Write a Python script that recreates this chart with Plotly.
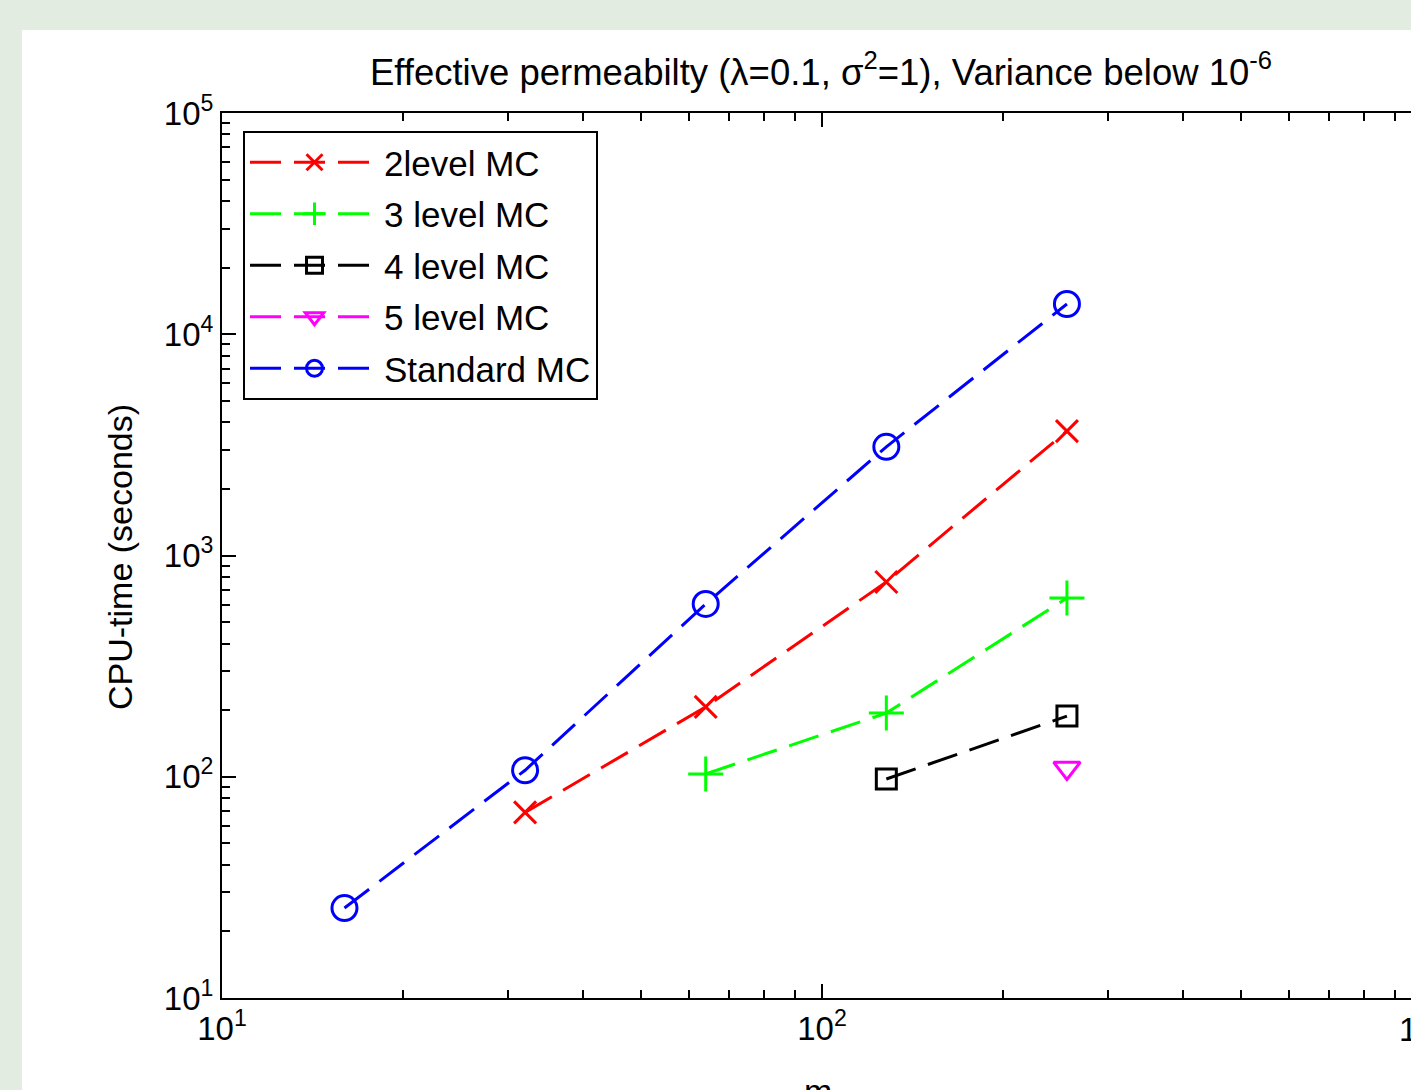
import plotly.graph_objects as go

# ---- data ----
m_std = [16, 32, 64, 128, 256]
cpu_std = [25.5, 107, 604, 3100, 13700]
m_2lvl = [32, 64, 128, 256]
cpu_2lvl = [69, 207, 759, 3650]
m_3lvl = [64, 128, 256]
cpu_3lvl = [103, 194, 642]
m_4lvl = [128, 256]
cpu_4lvl = [97.7, 188]
m_5lvl = [256]
cpu_5lvl = [109.5]

series_names = ["2level MC", "3 level MC", "4 level MC", "5 level MC", "Standard MC"]

x_tickvals = [10, 100, 1000]
x_ticktext = ["10<sup>1</sup>", "10<sup>2</sup>", "10<sup>3</sup>"]
y_tickvals = [10, 100, 1000, 10000, 100000]
y_ticktext = ["10<sup>1</sup>", "10<sup>2</sup>", "10<sup>3</sup>", "10<sup>4</sup>", "10<sup>5</sup>"]

W, H = 1411, 1090
L, T, B = 222, 113, 998  # plot area pixel positions
PX_PER_DEC = 600.0
x_right_log = 1 + (W - L) / PX_PER_DEC

FONT = "Liberation Sans, Arial, sans-serif"
DASH = "31px,13px"
BG = "#e2ece1"

fig = go.Figure()

def add(xs, ys, name, color, symbol, size, grp):
    fig.add_trace(go.Scatter(
        x=xs, y=ys, name=name, mode="lines+markers",
        line=dict(color=color, width=3, dash=DASH),
        marker=dict(symbol=symbol, size=size, color=color,
                    line=dict(color=color, width=3)),
        legendgroup=grp,
    ))

add(m_2lvl, cpu_2lvl, series_names[0], "#ff0000", "x-thin", 22, "a")
add(m_3lvl, cpu_3lvl, series_names[1], "#00ff00", "cross-thin", 25, "b")
add(m_4lvl, cpu_4lvl, series_names[2], "#000000", "square-open", 20, "c")
add(m_5lvl, cpu_5lvl, series_names[3], "#ff00ff", "triangle-down-open", 23, "d")
add(m_std, cpu_std, series_names[4], "#0000ff", "circle-open", 25, "e")

def px_to_paper_x(px):
    return (px - L) / (W - L)

def py_to_paper_y(py):
    return (B - py) / (B - T)

axis_common = dict(
    type="log", showline=True, linecolor="black", linewidth=2,
    ticks="inside", ticklen=14, tickwidth=2, tickcolor="black",
    showgrid=False, zeroline=False, tickmode="array",
    tickfont=dict(family=FONT, size=33, color="black"),
    minor=dict(ticks="inside", ticklen=8, tickwidth=2, tickcolor="black",
               dtick="D1", showgrid=False),
    automargin=False,
)

fig.update_layout(
    width=W, height=H,
    margin=dict(l=L, r=0, t=T, b=H - B, pad=0),
    paper_bgcolor=BG,
    plot_bgcolor="white",
    template="none",
    font=dict(family=FONT, color="black"),
    xaxis=dict(range=[1, x_right_log], mirror="ticks",
               tickvals=x_tickvals, ticktext=x_ticktext, **axis_common),
    yaxis=dict(range=[1, 5], mirror=False,
               tickvals=y_tickvals, ticktext=y_ticktext, **axis_common),
    showlegend=True,
    legend=dict(
        x=px_to_paper_x(243), y=py_to_paper_y(131), xanchor="left", yanchor="top",
        bgcolor="white", bordercolor="black", borderwidth=2,
        font=dict(family=FONT, size=35, color="black"),
        itemwidth=129, tracegroupgap=3, traceorder="grouped",
    ),
    title=dict(
        text="Effective permeabilty (λ=0.1, σ<sup>2</sup>=1), Variance below 10<sup>-6</sup>",
        font=dict(family=FONT, size=36.5, color="black"),
        xref="paper", x=px_to_paper_x(821), xanchor="center",
        yref="container", y=1 - 72 / H, yanchor="middle",
    ),
    shapes=[dict(type="rect", xref="paper", yref="paper", layer="below",
                 x0=px_to_paper_x(22), x1=1.05, y0=py_to_paper_y(H + 5), y1=py_to_paper_y(30),
                 fillcolor="white", line=dict(width=0))],
    annotations=[
        dict(text="CPU-time (seconds)", textangle=-90, showarrow=False,
             xref="paper", yref="paper", x=px_to_paper_x(120), y=py_to_paper_y(557),
             xanchor="center", yanchor="middle",
             font=dict(family=FONT, size=34, color="black")),
        dict(text="m", showarrow=False, xref="paper", yref="paper",
             x=px_to_paper_x(818), y=py_to_paper_y(1070), xanchor="center", yanchor="top",
             font=dict(family=FONT, size=34, color="black")),
        # partially visible 10^3 tick label at the cropped right edge
        dict(text=x_ticktext[2], showarrow=False, xref="paper", yref="paper",
             x=px_to_paper_x(1424), y=py_to_paper_y(1004), xanchor="center", yanchor="top",
             font=dict(family=FONT, size=33, color="black")),
    ],
)

fig.write_html(
    "out.html",
    config={"displayModeBar": False},
    post_script=("document.body.style.margin='0px';"
                 "document.body.style.background='" + BG + "';"
                 "document.body.style.overflow='hidden';"),
)
